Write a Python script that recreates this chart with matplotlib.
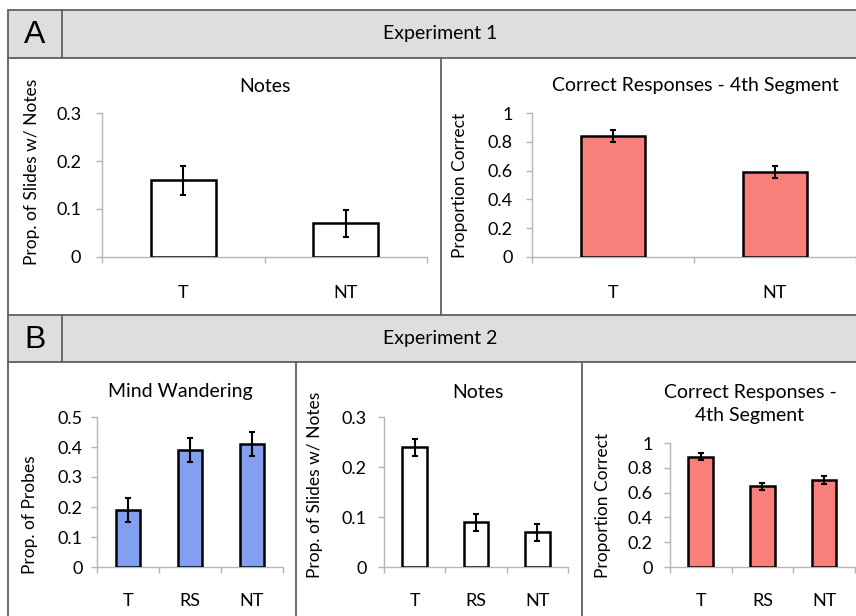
import numpy as np
import matplotlib
matplotlib.use('Agg')
import matplotlib.pyplot as plt
from matplotlib.patches import Rectangle
from matplotlib.ticker import FuncFormatter, FixedLocator

plt.rcParams['font.family'] = ['Lato', 'DejaVu Sans']

# ---------------- data ----------------
exp1_groups = ['T', 'NT']
exp1_notes = [0.16, 0.07]
exp1_notes_err = [0.03, 0.028]
exp1_correct = [0.84, 0.59]
exp1_correct_err = [0.04, 0.04]

exp2_groups = ['T', 'RS', 'NT']
exp2_mind = [0.19, 0.39, 0.41]
exp2_mind_err = [0.04, 0.04, 0.04]
exp2_notes = [0.24, 0.09, 0.07]
exp2_notes_err = [0.017, 0.017, 0.017]
exp2_correct = [0.89, 0.65, 0.70]
exp2_correct_err = [0.03, 0.03, 0.03]

WHITE = 'white'
SALMON = '#f97f7a'
BLUE = '#829ff0'
HEADER = '#dedede'
EDGE = '#606060'
AXIS = '#b5b5b5'
FS = 13
TFS = 14
LFS = 12.5

W, H = 856, 616
fig = plt.figure(figsize=(W / 100, H / 100), dpi=100)
bg = fig.add_axes([0, 0, 1, 1])
bg.set_xlim(0, W)
bg.set_ylim(H, 0)
bg.axis('off')


def px_axes(x0, y0, x1, y1):
    ax = fig.add_axes([x0 / W, 1 - y1 / H, (x1 - x0) / W, (y1 - y0) / H])
    ax.set_facecolor('none')
    return ax


# ---------------- frames / headers ----------------
def header(y0, y1, letter, title):
    bg.add_patch(Rectangle((8, y0), W + 10 - 8, y1 - y0, facecolor=HEADER,
                           edgecolor=EDGE, linewidth=1.3))
    bg.plot([62, 62], [y0, y1], color=EDGE, lw=1.3)
    bg.text(35, (y0 + y1) / 2 + 1, letter, fontsize=23, ha='center', va='center',
            family=['Liberation Sans', 'DejaVu Sans'])
    bg.text(440, (y0 + y1) / 2, title, fontsize=TFS, ha='center', va='center')


header(10, 58, 'A', 'Experiment 1')
header(315, 362, 'B', 'Experiment 2')
# content borders
bg.plot([8, 8], [58, 315], color=EDGE, lw=1.3)
bg.plot([441, 441], [58, 315], color=EDGE, lw=1.3)
bg.plot([8, 8], [362, H + 5], color=EDGE, lw=1.3)
bg.plot([296, 296], [362, H + 5], color=EDGE, lw=1.3)
bg.plot([582, 582], [362, H + 5], color=EDGE, lw=1.3)


def fmt(v, p):
    return f'{round(v, 2):g}'


def bars(ax, groups, vals, errs, color, ymax, step, ypad, xpad):
    x = np.arange(len(groups))
    ax.bar(x, vals, width=0.4, color=color, edgecolor='black', linewidth=1.8, zorder=3)
    ax.errorbar(x, vals, yerr=errs, fmt='none', ecolor='black', elinewidth=1.5,
                capsize=2.5, capthick=1.5, zorder=4)
    ax.set_xlim(-0.5, len(groups) - 0.5)
    ax.set_ylim(0, ymax)
    ax.set_yticks(np.arange(0, ymax + step / 2, step))
    ax.yaxis.set_major_formatter(FuncFormatter(fmt))
    ax.set_xticks(x)
    ax.set_xticklabels(groups)
    ax.xaxis.set_minor_locator(FixedLocator(np.arange(-0.5, len(groups), 1.0)))
    for s in ('top', 'right'):
        ax.spines[s].set_visible(False)
    for s in ('left', 'bottom'):
        ax.spines[s].set_color(AXIS)
        ax.spines[s].set_linewidth(1.0)
    ax.tick_params(axis='y', direction='out', length=4, width=1, color=AXIS,
                   labelsize=FS, pad=ypad)
    ax.tick_params(axis='x', which='major', length=0, labelsize=FS, pad=xpad)
    ax.tick_params(axis='x', which='minor', direction='out', length=4, width=1, color=AXIS)


# Experiment 1
a1 = px_axes(102, 113, 427, 257)
bars(a1, exp1_groups, exp1_notes, exp1_notes_err, WHITE, 0.3, 0.1, 11, 20)
a2 = px_axes(532, 113, 856, 257)
bars(a2, exp1_groups, exp1_correct, exp1_correct_err, SALMON, 1.0, 0.2, 10, 20)

# Experiment 2
b1 = px_axes(97, 417, 283, 567)
bars(b1, exp2_groups, exp2_mind, exp2_mind_err, BLUE, 0.5, 0.1, 6.5, 19)
b2 = px_axes(384, 417, 568, 567)
bars(b2, exp2_groups, exp2_notes, exp2_notes_err, WHITE, 0.3, 0.1, 8.5, 19)
b3 = px_axes(670, 443, 855, 567)
bars(b3, exp2_groups, exp2_correct, exp2_correct_err, SALMON, 1.0, 0.2, 8.5, 19)

# titles
bg.text(265, 87, 'Notes', fontsize=TFS, ha='center', va='center')
bg.text(695, 85, 'Correct Responses - 4th Segment', fontsize=TFS, ha='center', va='center')
bg.text(180, 392, 'Mind Wandering', fontsize=TFS, ha='center', va='center')
bg.text(478, 392, 'Notes', fontsize=TFS, ha='center', va='center')
bg.text(750, 404, 'Correct Responses -\n4th Segment', fontsize=TFS, ha='center', va='center',
        linespacing=1.4)

# y labels
bg.text(32, 172, 'Prop. of Slides w/ Notes', fontsize=LFS, rotation=90, ha='center', va='center')
bg.text(460, 185, 'Proportion Correct', fontsize=LFS, rotation=90, ha='center', va='center')
bg.text(30, 515, 'Prop. of Probes', fontsize=LFS, rotation=90, ha='center', va='center')
bg.text(315, 485, 'Prop. of Slides w/ Notes', fontsize=LFS, rotation=90, ha='center', va='center')
bg.text(603, 505, 'Proportion Correct', fontsize=LFS, rotation=90, ha='center', va='center')

fig.savefig('out.png', dpi=100)
